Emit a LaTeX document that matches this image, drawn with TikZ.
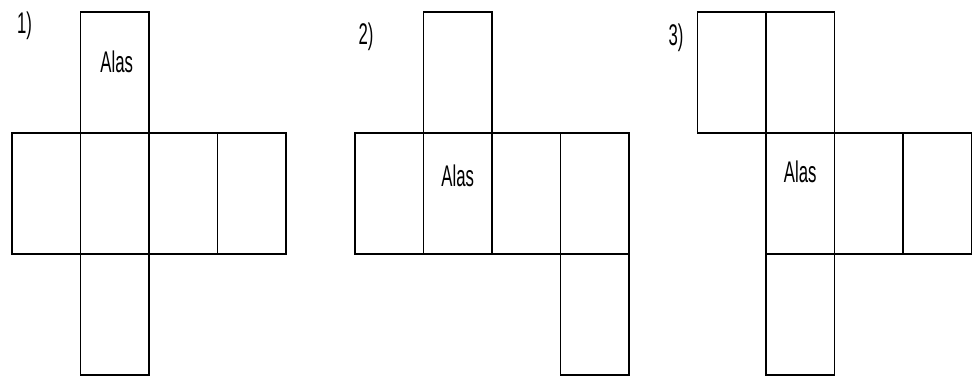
\documentclass[tikz,border=0pt]{standalone}
\usepackage{fontspec}
\setmainfont{Liberation Sans}
\newfontfamily\etroit[FakeStretch=0.56]{Liberation Sans}
\usetikzlibrary{positioning}

\begin{document}
\begin{tikzpicture}[
    node distance=0pt,
    face/.style={
        draw,
        line width=1pt,
        minimum width=1.37cm,
        minimum height=2.42cm,
        inner sep=0pt,
        outer sep=0pt
    },
    etiq/.style={
        font=\etroit\fontsize{17}{20}\selectfont,
        inner sep=0pt
    }
]
\useasboundingbox (0,0) rectangle (19.46,-7.52);

% Patron 1
\node[face, anchor=north west] (a1) at (0.24,-2.66) {};
\node[face, right=of a1] (a2) {};
\node[face, right=of a2] (a3) {};
\node[face, right=of a3] (a4) {};
\node[face, above=of a2] (ahaut) {};
\node[face, below=of a2] (abas) {};

% Patron 2
\node[face, anchor=north west] (b1) at (7.10,-2.66) {};
\node[face, right=of b1] (b2) {};
\node[face, right=of b2] (b3) {};
\node[face, right=of b3] (b4) {};
\node[face, above=of b2] (bhaut) {};
\node[face, below=of b4] (bbas) {};

% Patron 3
\node[face, anchor=north west] (c1) at (15.32,-2.66) {};
\node[face, right=of c1] (c2) {};
\node[face, right=of c2] (c3) {};
\node[face, above=of c1] (chaut) {};
\node[face, left=of chaut] (chaut2) {};
\node[face, below=of c1] (cbas) {};

% Numéros
\node[etiq] (n1) at (0.49,-0.52) {1)};
\node[etiq] (n2) at (7.32,-0.74) {2)};
\node[etiq] (n3) at (13.52,-0.76) {3)};

% Faces « Alas »
\node[etiq] (alas1) at ([xshift=0.04cm, yshift=0.21cm]ahaut.center) {Alas};
\node[etiq] (alas2) at ([yshift=0.35cm]b2.center) {Alas};
\node[etiq] (alas3) at ([yshift=0.43cm]c1.center) {Alas};

\end{tikzpicture}
\end{document}
